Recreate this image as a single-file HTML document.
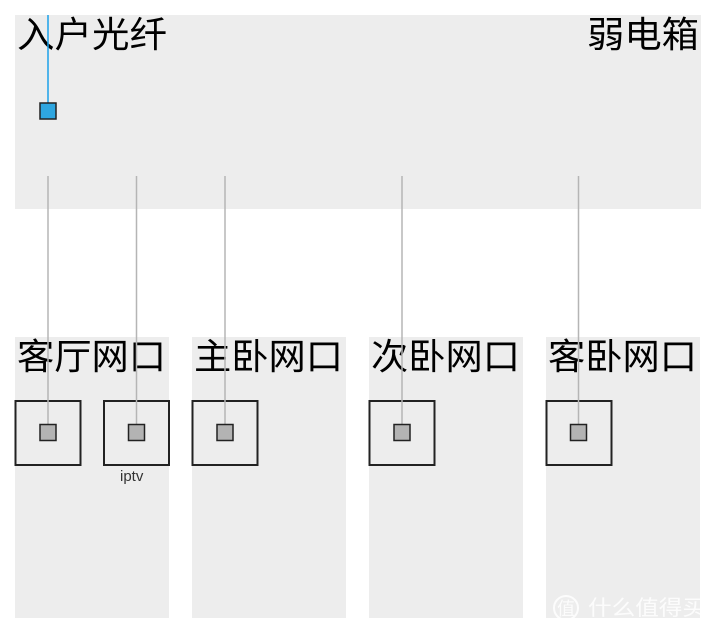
<!DOCTYPE html>
<html><head><meta charset="utf-8"><style>
html,body{margin:0;padding:0;background:#fff;width:720px;height:636px;overflow:hidden}
svg text{font-family:"Liberation Sans","Noto Sans CJK SC",sans-serif;}
</style></head><body>
<svg width="720" height="636" viewBox="0 0 720 636" xmlns="http://www.w3.org/2000/svg">
<rect x="15" y="15" width="686" height="194" fill="#ededed"/>
<rect x="15" y="337" width="154" height="281" fill="#ededed"/>
<rect x="192" y="337" width="154" height="281" fill="#ededed"/>
<rect x="369" y="337" width="154" height="281" fill="#ededed"/>
<rect x="546" y="337" width="154" height="281" fill="#ededed"/>
<g font-size="36" fill="#000">
<text x="17" y="47" textLength="150" lengthAdjust="spacingAndGlyphs">入户光纤</text>
<text x="587" y="47" textLength="112" lengthAdjust="spacingAndGlyphs">弱电箱</text>
<text x="17" y="369" textLength="149" lengthAdjust="spacingAndGlyphs">客厅网口</text>
<text x="194" y="369" textLength="149" lengthAdjust="spacingAndGlyphs">主卧网口</text>
<text x="371" y="369" textLength="149" lengthAdjust="spacingAndGlyphs">次卧网口</text>
<text x="548" y="369" textLength="149" lengthAdjust="spacingAndGlyphs">客卧网口</text>
</g>
<g fill="none" stroke="#222" stroke-width="2">
<rect x="15.5" y="401" width="65" height="64"/>
<rect x="104" y="401" width="65" height="64"/>
<rect x="192.5" y="401" width="65" height="64"/>
<rect x="369.5" y="401" width="65" height="64"/>
<rect x="546.5" y="401" width="65" height="64"/>
</g>
<text x="120" y="481" font-size="15" fill="#333">iptv</text>
<g stroke="#b5b5b5" stroke-width="1.5">
<line x1="48" y1="176" x2="48" y2="425"/>
<line x1="136.5" y1="176" x2="136.5" y2="425"/>
<line x1="225" y1="176" x2="225" y2="425"/>
<line x1="402" y1="176" x2="402" y2="425"/>
<line x1="578.5" y1="176" x2="578.5" y2="425"/>
</g>
<g fill="#b3b3b3" stroke="#222" stroke-width="1.5">
<rect x="40" y="424.5" width="16" height="16"/>
<rect x="128.5" y="424.5" width="16" height="16"/>
<rect x="217" y="424.5" width="16" height="16"/>
<rect x="394" y="424.5" width="16" height="16"/>
<rect x="570.5" y="424.5" width="16" height="16"/>
</g>
<line x1="48" y1="15" x2="48" y2="104" stroke="#1ba0e8" stroke-width="1.5"/>
<rect x="40" y="103" width="16" height="16" fill="#2ea6e0" stroke="#222" stroke-width="1.5"/>
<g fill="#fff" opacity="0.85">
<circle cx="566" cy="608" r="12" fill="none" stroke="#fff" stroke-width="2"/>
<text x="557" y="615" font-size="18">值</text>
<text x="588" y="615" font-size="21" textLength="118" lengthAdjust="spacingAndGlyphs">什么值得买</text>
</g>
</svg>
</body></html>
